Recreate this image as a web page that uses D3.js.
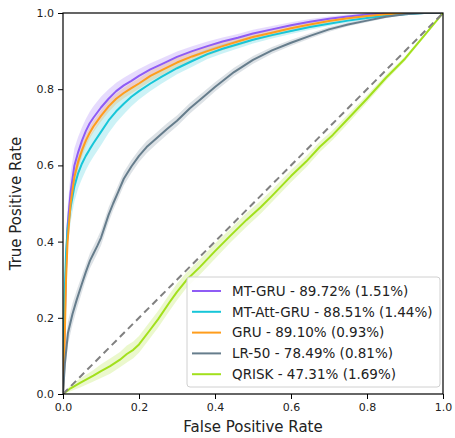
<!DOCTYPE html>
<html><head><meta charset="utf-8">
<script src="https://cdn.jsdelivr.net/npm/d3@7"></script>
<style>body{margin:0;background:#fff}svg{display:block}text{font-family:"DejaVu Sans",sans-serif}</style>
</head><body><svg id="c" width="455" height="438"></svg>
<script>
const gruFpr = [0,0.004,0.008,0.012,0.02,0.03,0.04,0.05,0.06,0.07,0.08,0.1,0.12,0.14,0.16,0.18,0.2,0.23,0.26,0.3,0.34,0.38,0.42,0.46,0.5,0.55,0.6,0.65,0.7,0.75,0.8,0.85,0.9,0.95,1.0];
const mtGruTpr = [0,0.16,0.33,0.44,0.53,0.6,0.635,0.665,0.69,0.71,0.725,0.752,0.775,0.795,0.81,0.822,0.835,0.852,0.866,0.885,0.9,0.913,0.925,0.935,0.946,0.957,0.968,0.977,0.985,0.991,0.996,0.999,1.0,1.0,1.0];
const mtGruSd  = [0,0.04,0.05,0.05,0.05,0.045,0.04,0.035,0.032,0.03,0.03,0.028,0.025,0.022,0.02,0.02,0.018,0.016,0.015,0.014,0.013,0.012,0.011,0.01,0.01,0.009,0.008,0.007,0.006,0.005,0.004,0.002,0.001,0,0];
const mtAttTpr = [0,0.25,0.37,0.43,0.49,0.545,0.58,0.605,0.625,0.642,0.658,0.688,0.718,0.742,0.762,0.78,0.795,0.815,0.833,0.855,0.874,0.892,0.906,0.918,0.93,0.942,0.953,0.963,0.972,0.98,0.987,0.993,0.997,1.0,1.0];
const mtAttSd  = [0,0.05,0.05,0.045,0.04,0.04,0.04,0.04,0.038,0.036,0.035,0.035,0.033,0.03,0.028,0.025,0.022,0.02,0.018,0.016,0.015,0.013,0.012,0.011,0.01,0.009,0.008,0.007,0.006,0.005,0.004,0.003,0.002,0,0];
const gruTpr = [0,0.12,0.3,0.4,0.5,0.57,0.61,0.64,0.665,0.685,0.702,0.73,0.755,0.775,0.79,0.803,0.815,0.835,0.85,0.87,0.886,0.9,0.913,0.925,0.937,0.948,0.96,0.97,0.979,0.986,0.992,0.997,1.0,1.0,1.0];
const gruSd  = [0,0.03,0.03,0.025,0.02,0.02,0.018,0.017,0.016,0.015,0.015,0.015,0.015,0.014,0.014,0.014,0.014,0.014,0.013,0.013,0.012,0.012,0.011,0.011,0.01,0.01,0.009,0.008,0.007,0.006,0.004,0.003,0.001,0,0];

const lrFpr = [0,0.005,0.013,0.025,0.036,0.05,0.06,0.071,0.08,0.09,0.1,0.11,0.12,0.132,0.145,0.16,0.18,0.2,0.22,0.247,0.273,0.3,0.334,0.37,0.4,0.45,0.5,0.55,0.6,0.65,0.7,0.75,0.8,0.85,0.9,0.95,1.0];
const lrTpr = [0,0.08,0.16,0.21,0.247,0.29,0.32,0.35,0.368,0.388,0.41,0.44,0.47,0.5,0.53,0.565,0.597,0.625,0.648,0.672,0.695,0.717,0.75,0.78,0.806,0.845,0.877,0.902,0.922,0.94,0.957,0.97,0.98,0.99,0.997,1.0,1.0];
const lrSd  = [0,0.03,0.03,0.028,0.025,0.022,0.02,0.02,0.02,0.02,0.02,0.02,0.02,0.018,0.018,0.018,0.017,0.016,0.016,0.015,0.015,0.014,0.014,0.013,0.012,0.011,0.01,0.009,0.008,0.007,0.006,0.005,0.004,0.003,0.002,0.001,0];

const qrFpr = [0,0.02,0.045,0.08,0.1,0.124,0.15,0.168,0.185,0.2,0.229,0.25,0.28,0.3,0.325,0.36,0.4,0.44,0.483,0.52,0.55,0.6,0.64,0.676,0.71,0.747,0.8,0.85,0.9,0.95,1.0];
const qrTpr = [0,0.015,0.029,0.048,0.06,0.073,0.09,0.105,0.116,0.13,0.168,0.196,0.24,0.268,0.299,0.333,0.375,0.415,0.457,0.49,0.52,0.572,0.61,0.649,0.68,0.719,0.775,0.83,0.88,0.94,1.0];
const qrSd  = [0,0.008,0.012,0.015,0.018,0.02,0.02,0.022,0.022,0.022,0.022,0.022,0.022,0.022,0.02,0.02,0.02,0.018,0.018,0.017,0.016,0.016,0.015,0.014,0.013,0.012,0.01,0.008,0.006,0.004,0];

const legendLabels = ["MT-GRU - 89.72% (1.51%)","MT-Att-GRU - 88.51% (1.44%)","GRU - 89.10% (0.93%)","LR-50 - 78.49% (0.81%)","QRISK - 47.31% (1.69%)"];
const colors = ["#8f5cf5","#17c6d8","#ff9d1c","#667d8c","#a2e01c"];
const ticks = [0,0.2,0.4,0.6,0.8,1.0];

const series = [
  {x:gruFpr,y:mtGruTpr,sd:mtGruSd},
  {x:gruFpr,y:mtAttTpr,sd:mtAttSd},
  {x:gruFpr,y:gruTpr,sd:gruSd},
  {x:lrFpr,y:lrTpr,sd:lrSd},
  {x:qrFpr,y:qrTpr,sd:qrSd}
];

const svg = d3.select("#c");
const L=63,R=443,T=13,B=394;
const x = d3.scaleLinear().domain([0,1]).range([L,R]);
const y = d3.scaleLinear().domain([0,1]).range([B,T]);

svg.append("clipPath").attr("id","clip").append("rect").attr("x",L).attr("y",T).attr("width",R-L).attr("height",B-T);
const g = svg.append("g").attr("clip-path","url(#clip)");

series.forEach((s,i)=>{
  const pts = s.x.map((v,k)=>({x:v,y:s.y[k],lo:Math.max(0,s.y[k]-s.sd[k]),hi:Math.min(1,s.y[k]+s.sd[k])}));
  g.append("path").datum(pts).attr("fill",colors[i]).attr("fill-opacity",0.22)
    .attr("d",d3.area().x(d=>x(d.x)).y0(d=>y(d.lo)).y1(d=>y(d.hi)));
});
series.forEach((s,i)=>{
  const pts = s.x.map((v,k)=>({x:v,y:s.y[k]}));
  g.append("path").datum(pts).attr("fill","none").attr("stroke",colors[i]).attr("stroke-width",2)
    .attr("stroke-linejoin","round")
    .attr("d",d3.line().x(d=>x(d.x)).y(d=>y(d.y)));
});
g.append("line").attr("x1",x(0)).attr("y1",y(0)).attr("x2",x(1)).attr("y2",y(1))
  .attr("stroke","#808080").attr("stroke-width",2).attr("stroke-dasharray","7,4.5");

const xa = svg.append("g").attr("transform",`translate(0,${B})`)
  .call(d3.axisBottom(x).tickValues(ticks).tickFormat(d3.format(".1f")).tickSize(5).tickPadding(4));
const ya = svg.append("g").attr("transform",`translate(${L},0)`)
  .call(d3.axisLeft(y).tickValues(ticks).tickFormat(d3.format(".1f")).tickSize(5).tickPadding(4));
[xa,ya].forEach(a=>{a.select(".domain").remove();a.selectAll("text").attr("font-size",11).attr("fill","#222").attr("font-family","DejaVu Sans");a.selectAll("line").attr("stroke","#000");});
svg.append("rect").attr("x",L).attr("y",T).attr("width",R-L).attr("height",B-T).attr("fill","none").attr("stroke","#000").attr("stroke-width",1.2);

svg.append("text").attr("x",(L+R)/2).attr("y",432).attr("text-anchor","middle").attr("font-size",15).attr("fill","#222").text("False Positive Rate");
svg.append("text").attr("transform",`translate(21,${(T+B)/2}) rotate(-90)`).attr("text-anchor","middle").attr("font-size",15).attr("fill","#222").text("True Positive Rate");

const lg = svg.append("g");
lg.append("rect").attr("x",187).attr("y",277).attr("width",253).attr("height",110).attr("rx",3)
  .attr("fill","#fff").attr("fill-opacity",0.85).attr("stroke","#d0d0d0");
legendLabels.forEach((t,i)=>{
  const yy = 291+i*20.8;
  lg.append("line").attr("x1",192).attr("x2",221).attr("y1",yy).attr("y2",yy).attr("stroke",colors[i]).attr("stroke-width",2);
  lg.append("text").attr("x",232).attr("y",yy).attr("dy","0.36em").attr("font-size",13.5).attr("fill","#222").text(t);
});
</script></body></html>
